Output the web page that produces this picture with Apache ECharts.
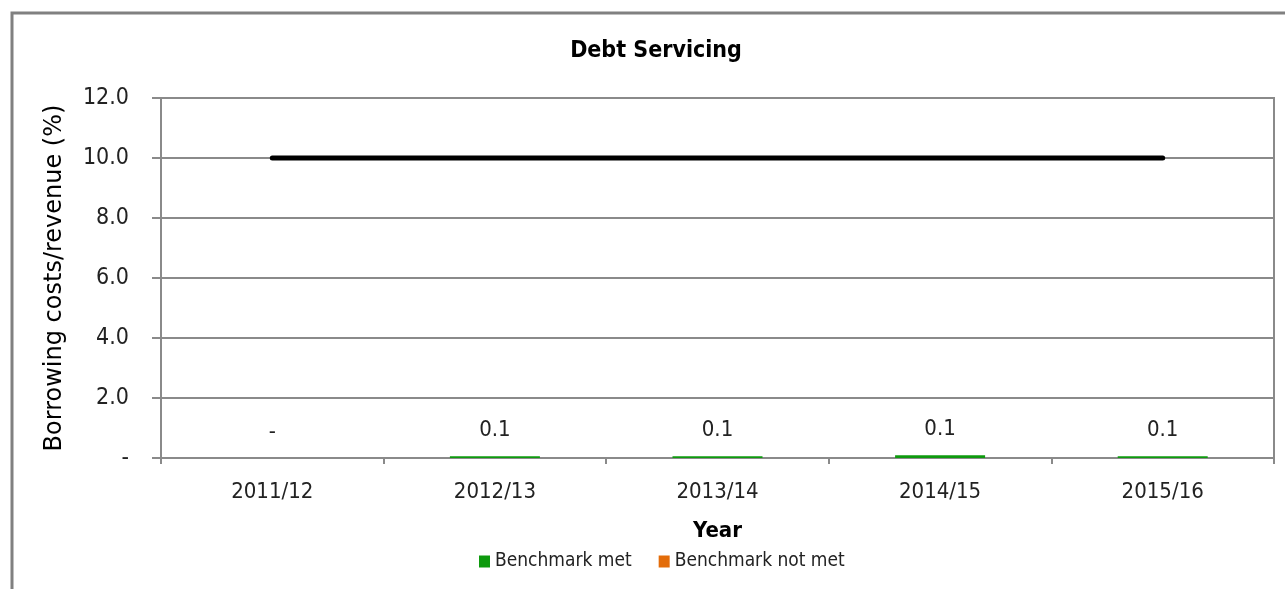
<!DOCTYPE html>
<html>
<head>
<meta charset="utf-8">
<script src="https://cdn.jsdelivr.net/npm/echarts@6/dist/echarts.min.js"></script>
<style>
  html, body { margin: 0; padding: 0; background: #fff; }
  #chart { width: 1285px; height: 589px; }
</style>
</head>
<body>
<div id="chart"></div>
<script>
// Debt servicing: borrowing costs as a share of revenue, against the 10% benchmark
const years = ['2011/12', '2012/13', '2013/14', '2014/15', '2015/16'];
const benchmarkMet = [0, 0.06, 0.06, 0.09, 0.06];
const benchmarkNotMet = [null, null, null, null, null];
const benchmarkLimit = [10, 10, 10, 10, 10];
const yTicks = { min: 0, max: 12, interval: 2 };

const FONT = '"DejaVu Sans Condensed", "Liberation Sans Narrow", sans-serif';
const WIDE_FONT = '"DejaVu Sans", "Open Sans", sans-serif';
const GRID_GRAY = '#8a8a8a';

const fmt = v => (v === 0 || v == null) ? '-' : Number(v).toFixed(1);

const chart = echarts.init(document.getElementById('chart'), null, { renderer: 'canvas' });

chart.setOption({
  backgroundColor: '#ffffff',
  animation: false,
  textStyle: { fontFamily: FONT },
  graphic: [{
    type: 'rect',
    shape: { x: 12, y: 13, width: 1300, height: 600 },
    style: { fill: 'none', stroke: '#808080', lineWidth: 3 },
    silent: true
  }],
  title: {
    text: 'Debt Servicing',
    left: 651,
    top: 35,
    textAlign: 'center',
    textStyle: { fontFamily: FONT, fontWeight: 'bold', fontSize: 23, color: '#000' }
  },
  legend: {
    left: 474,
    top: 547,
    itemWidth: 11,
    itemHeight: 12,
    itemGap: 27,
    icon: 'rect',
    textStyle: { fontFamily: FONT, fontSize: 19, color: '#222' },
    data: ['Benchmark met', 'Benchmark not met']
  },
  grid: {
    left: 161, right: 11, top: 98, bottom: 131,
    show: true, borderColor: GRID_GRAY, borderWidth: 2, backgroundColor: 'transparent'
  },
  xAxis: {
    type: 'category',
    data: years,
    name: 'Year',
    nameLocation: 'middle',
    nameGap: 62,
    nameTextStyle: { fontFamily: FONT, fontWeight: 'bold', fontSize: 22, color: '#000' },
    axisLine: { lineStyle: { color: GRID_GRAY, width: 2 } },
    axisTick: { show: true, length: 6, lineStyle: { color: GRID_GRAY, width: 2 } },
    axisLabel: { fontFamily: FONT, fontSize: 22, color: '#222', margin: 23 }
  },
  yAxis: {
    type: 'value',
    min: yTicks.min, max: yTicks.max, interval: yTicks.interval,
    name: 'Borrowing costs/revenue (%)',
    nameLocation: 'middle',
    nameGap: 94,
    nameTextStyle: { fontFamily: WIDE_FONT, fontSize: 24, color: '#000' },
    axisLine: { show: true, lineStyle: { color: GRID_GRAY, width: 2 } },
    axisTick: { show: true, inside: false, length: 9, lineStyle: { color: GRID_GRAY, width: 2 } },
    splitLine: { show: true, lineStyle: { color: GRID_GRAY, width: 2 } },
    axisLabel: { fontFamily: FONT, fontSize: 23, color: '#222', margin: 32, formatter: fmt }
  },
  series: [
    {
      name: 'Benchmark met',
      type: 'bar',
      stack: 'debt',
      data: benchmarkMet,
      barWidth: 90,
      itemStyle: { color: '#0e9a0e' },
      label: {
        show: true, position: 'top', distance: 15,
        fontFamily: FONT, fontSize: 22, color: '#222',
        formatter: p => fmt(p.value)
      }
    },
    {
      name: 'Benchmark not met',
      type: 'bar',
      stack: 'debt',
      data: benchmarkNotMet,
      barWidth: 90,
      itemStyle: { color: '#e36c0a' }
    },
    {
      name: 'Benchmark',
      type: 'line',
      data: benchmarkLimit,
      symbol: 'none',
      lineStyle: { color: '#000', width: 5, cap: 'round' },
      z: 5
    }
  ]
});
</script>
</body>
</html>
